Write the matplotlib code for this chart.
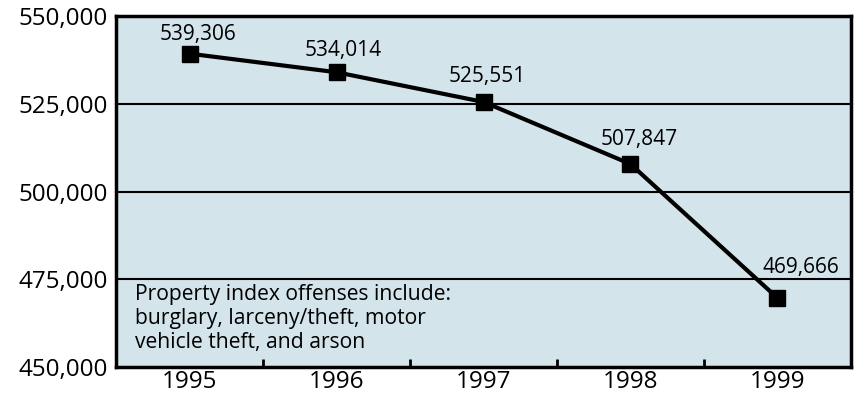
import matplotlib.pyplot as plt
from matplotlib.ticker import FuncFormatter

years = [1995, 1996, 1997, 1998, 1999]
offenses = [539306, 534014, 525551, 507847, 469666]
note = "Property index offenses include:\nburglary, larceny/theft, motor\nvehicle theft, and arson"

# label nudges in points (dx, dy), baseline above marker centre
label_dx = [6, 4.5, 3, 6, 17]
label_dy = [9.5, 11.5, 14.5, 13.5, 18]

plt.rcParams['font.family'] = ['Open Sans', 'DejaVu Sans']

fig = plt.figure(figsize=(8.55, 3.96), dpi=100)
ax = fig.add_axes([0.1357, 0.0732, 0.8596, 0.886])
ax.set_facecolor('#d4e4eb')

for y in [475000, 500000, 525000]:
    ax.axhline(y, color='black', lw=1.5, zorder=1)

ax.plot(years, offenses, color='black', lw=3, marker='s', markersize=11, zorder=3)

for x, v, dx, dy in zip(years, offenses, label_dx, label_dy):
    ax.annotate(f"{v:,}", (x, v), xytext=(dx, dy), textcoords='offset points',
                ha='center', va='baseline', fontsize=15)

ax.text(0.026, 0.238, note, transform=ax.transAxes, ha='left', va='top',
        fontsize=15.2, linespacing=1.2)

ax.set_xlim(1994.5, 1999.5)
ax.set_ylim(450000, 550000)
ax.set_yticks([450000, 475000, 500000, 525000, 550000])
ax.yaxis.set_major_formatter(FuncFormatter(lambda v, p: f"{int(v):,}"))
ax.set_xticks(years)
ax.set_xticks([1995.5, 1996.5, 1997.5, 1998.5], minor=True)
ax.tick_params(axis='both', which='major', length=0, labelsize=17.5)
ax.tick_params(axis='x', which='major', pad=2)
ax.tick_params(axis='x', which='minor', direction='in', length=6, width=2, color='black')
ax.tick_params(axis='y', pad=6)

for s in ax.spines.values():
    s.set_linewidth(2.5)
    s.set_color('black')

fig.savefig('out.png', dpi=100)
